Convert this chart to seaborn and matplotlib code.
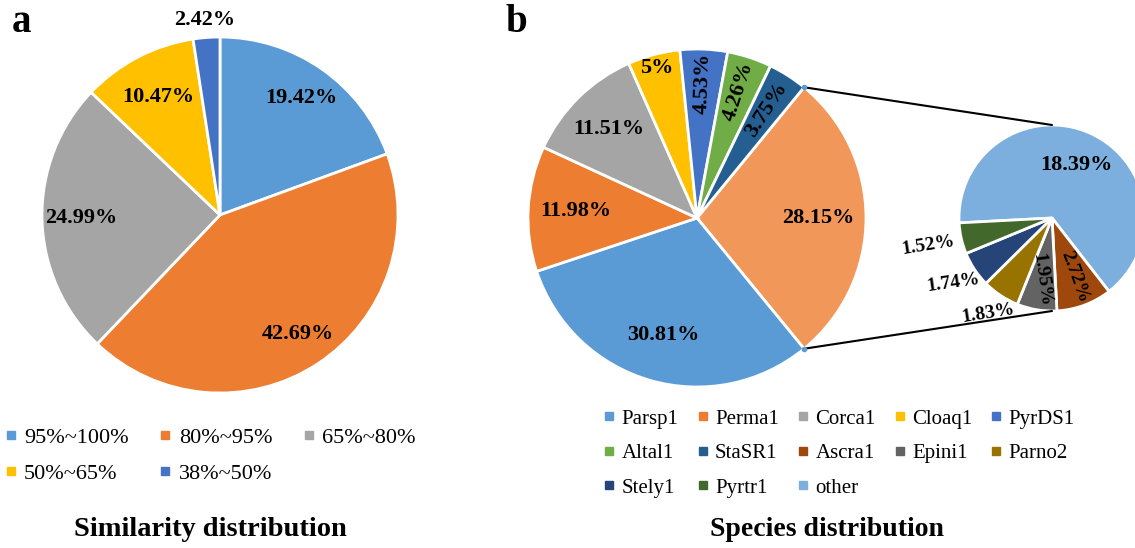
import seaborn as sns
import matplotlib.pyplot as plt
from matplotlib.lines import Line2D
import numpy as np

# Panel a: similarity distribution
sim_labels = ["95%~100%", "80%~95%", "65%~80%", "50%~65%", "38%~50%"]
sim_values = [19.42, 42.69, 24.99, 10.47, 2.42]

# Panel b: species distribution (main pie) and the "other" breakdown (small pie)
main_labels = ["Parsp1", "Perma1", "Corca1", "Cloaq1", "PyrDS1", "Altal1", "StaSR1"]
main_values = [30.81, 11.98, 11.51, 5, 4.53, 4.26, 3.75]
sub_labels = ["other", "Ascra1", "Epini1", "Parno2", "Stely1", "Pyrtr1"]
sub_values = [18.39, 2.72, 1.95, 1.83, 1.74, 1.52]

sns.set_style("white")
plt.rcParams["font.family"] = ["Liberation Serif", "DejaVu Serif"]
plt.rcParams["text.color"] = "black"

office = sns.color_palette(["#5B9BD5", "#ED7D31", "#A5A5A5", "#FFC000", "#4472C4",
                            "#70AD47", "#255E91", "#9E480E", "#636363", "#997300",
                            "#264478", "#43682B", "#7CAFDD", "#F1975A"])

W, H = 1135, 548
fig = plt.figure(figsize=(W / 100, H / 100), dpi=100)
ax = fig.add_axes([0, 0, 1, 1])
edge = dict(edgecolor="white", linewidth=2)


def label_wedges(wedges, texts, dists, rots, sizes):
    for w, t, d, r, s in zip(wedges, texts, dists, rots, sizes):
        mid = np.deg2rad((w.theta1 + w.theta2) / 2)
        x = w.center[0] + d * w.r * np.cos(mid)
        y = w.center[1] + d * w.r * np.sin(mid)
        ax.text(x, y, t, ha="center", va="center", rotation=r, color="black",
                fontsize=s, fontweight="bold", rotation_mode="anchor")


def pct(v):
    return f"{v:g}%"


# ---- panel a
wa, _ = ax.pie(sim_values, colors=office[:5], startangle=90, counterclock=False,
               center=(220, H - 215), radius=178, wedgeprops=edge)
label_wedges(wa, [pct(v) for v in sim_values],
             [0.8, 0.8, 0.78, 0.75, 1.1], [0] * 5, [16] * 5)

# ---- panel b, main pie ("other" slice first, centred on the right)
other_total = round(sum(sub_values), 2)
main_all = [other_total] + main_values
start_b = 180 * other_total / sum(main_all)
wb, _ = ax.pie(main_all, colors=[office[13]] + list(office[:7]), startangle=start_b,
               counterclock=False, center=(697, H - 218), radius=169, wedgeprops=edge)
label_wedges(wb, [pct(v) for v in main_all],
             [0.72, 0.72, 0.72, 0.74, 0.92, 0.8, 0.79, 0.76],
             [0, 0, 0, 0, 0, 88, 72, 57], [16] * 8)

# ---- panel b, secondary pie
ws, _ = ax.pie(sub_values, colors=[office[12]] + list(office[7:12]), startangle=183,
               counterclock=False, center=(1052, H - 218), radius=93, wedgeprops=edge)
label_wedges(ws, [pct(v) for v in sub_values],
             [0.63, 0.68, 0.67, 1.23, 1.27, 1.36],
             [0, -70, -82, 9, 8, 9], [16, 14, 14, 14, 14, 14])

# connector lines between "other" slice and secondary pie
w_other = wb[0]
cx, cy = w_other.center
cx2, cy2 = ws[0].center
for th, y2 in [(w_other.theta2, cy2 + ws[0].r), (w_other.theta1, cy2 - ws[0].r)]:
    x1 = cx + w_other.r * np.cos(np.deg2rad(th))
    y1 = cy + w_other.r * np.sin(np.deg2rad(th))
    ax.plot([x1, cx2], [y1, y2], color="black", lw=1.5)
    ax.plot([x1], [y1], marker="o", ms=3, color="#5B9BD5")


# legends (row-major order like the original)
def row_major(items, ncol):
    return [items[i] for j in range(ncol) for i in range(j, len(items), ncol)]


def handles(cols):
    return [Line2D([], [], marker="s", ls="", color=c, markersize=6) for c in cols]


leg_a = ax.legend(row_major(handles(office[:5]), 3), row_major(sim_labels, 3), ncol=3,
                  loc="upper left", bbox_to_anchor=(4 / W, 1 - 427 / H),
                  frameon=False, fontsize=16, handlelength=0.6, handletextpad=0.3,
                  columnspacing=1.35, labelspacing=0.72, borderpad=0, borderaxespad=0)
ax.add_artist(leg_a)

b_labels = main_labels + sub_labels[1:] + ["other"]
b_cols = list(office[:12]) + [office[12]]
ax.legend(row_major(handles(b_cols), 5), row_major(b_labels, 5), ncol=5,
          loc="upper left", bbox_to_anchor=(603 / W, 1 - 409 / H),
          frameon=False, fontsize=15, handlelength=0.6, handletextpad=0.3,
          columnspacing=0.85, labelspacing=0.72, borderpad=0, borderaxespad=0)

# titles and panel letters
ax.text(210, H - 530, "Similarity distribution", ha="center", va="center",
        fontsize=20.5, fontweight="bold")
ax.text(827, H - 530, "Species distribution", ha="center", va="center",
        fontsize=20, fontweight="bold")
ax.text(12, H - 22, "a", ha="left", va="center", fontsize=28, fontweight="bold")
ax.text(505, H - 22, "b", ha="left", va="center", fontsize=28, fontweight="bold")

ax.set_xlim(0, W)
ax.set_ylim(0, H)
ax.set_aspect("auto")
ax.set_axis_off()

fig.savefig("out.png", dpi=100)
